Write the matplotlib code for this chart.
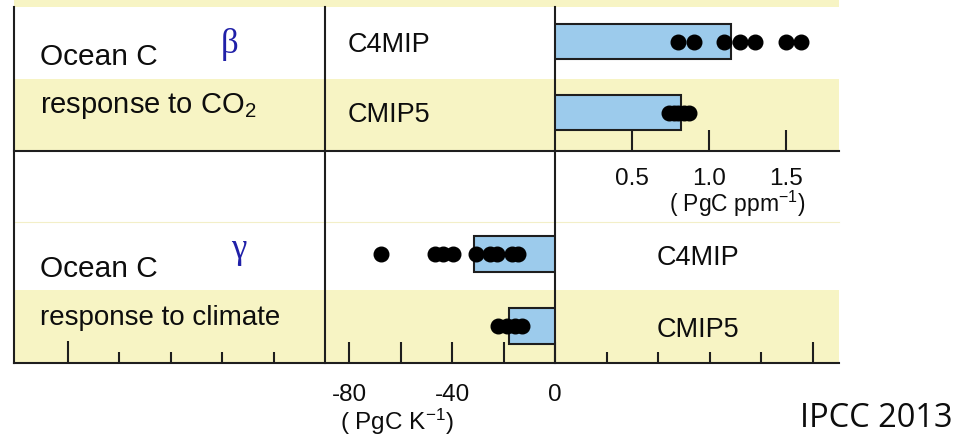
import matplotlib
matplotlib.use("Agg")
import matplotlib.pyplot as plt
from matplotlib.patches import Rectangle

plt.rcParams['font.family'] = ['Liberation Sans', 'DejaVu Sans']
plt.rcParams['mathtext.fontset'] = 'custom'
plt.rcParams['mathtext.rm'] = 'Liberation Sans'
plt.rcParams['mathtext.it'] = 'Liberation Sans'

# ---------------- data ----------------
rows = ["C4MIP", "CMIP5"]
beta_bar = [1.14, 0.82]
beta_c4mip = [0.80, 0.90, 1.10, 1.20, 1.30, 1.50, 1.60]
beta_cmip5 = [0.74, 0.77, 0.80, 0.84, 0.87]
gamma_bar = [-31.5, -17.9]
gamma_c4mip = [-67.6, -46.6, -43.5, -39.7, -30.7, -25.2, -22.6, -16.8, -14.2]
gamma_cmip5 = [-22.0, -18.8, -15.5, -12.7]
beta_ticks = [0.5, 1.0, 1.5]
beta_ticklabels = ["0.5", "1.0", "1.5"]
gamma_major = [-80, -40, 0]
gamma_minor = [-60, -20]
gamma_ticklabels = ["-80", "-40", "0"]
left_short = [-80, -60, -40, -20]
left_tall = [-100]
right_short = [20, 40, 60, 80]
right_tall = [100]

W, H = 976, 443
fig = plt.figure(figsize=(W / 100, H / 100), dpi=100)

YEL = '#f7f4c4'
BLUE = '#9ccbec'
DARK = '#1e1e1e'
TXT = '#0d0d0d'
LW = 1.5


def fx(x):
    return x / W


def fy(y):
    return 1 - y / H


def add_ax(x0, y0, x1, y1, **kw):
    return fig.add_axes([fx(x0), fy(y1), fx(x1) - fx(x0), (y1 - y0) / H], **kw)


# background axes in pixel units for bands, frame lines and labels
bg = fig.add_axes([0, 0, 1, 1])
bg.set_xlim(0, W)
bg.set_ylim(H, 0)
bg.axis('off')

for (y0, y1) in [(0, 7), (79, 151), (290, 363)]:
    bg.add_patch(Rectangle((14, y0), 839 - 14, y1 - y0, facecolor=YEL, edgecolor='none', zorder=0))
bg.plot([14, 839], [222, 222], color='#f3efc8', lw=0.8, zorder=1)

# frame lines
bg.plot([14, 14], [7, 363], color=DARK, lw=LW, zorder=3)
bg.plot([325, 325], [7, 363], color=DARK, lw=LW, zorder=3)
bg.plot([555, 555], [7, 363], color=DARK, lw=LW, zorder=3)
bg.plot([14, 839], [151, 151], color=DARK, lw=LW, zorder=3)
bg.plot([14, 839], [363, 363], color=DARK, lw=LW, zorder=3)

# left texts
bg.text(40, 65, "Ocean C", fontsize=21.5, va='baseline', ha='left', color=TXT)
bg.text(40, 113, r"response to CO$_{\mathregular{2}}$", fontsize=21, va='baseline', ha='left', color=TXT)
bg.text(40, 277, "Ocean C", fontsize=21.5, va='baseline', ha='left', color=TXT)
bg.text(40, 325, "response to climate", fontsize=20, va='baseline', ha='left', color=TXT)
bg.text(230, 44, "β", fontsize=25, family=['Liberation Serif', 'DejaVu Serif'],
        color='#2020a8', ha='center', va='center')
bg.text(239, 249, "γ", fontsize=25, family=['Liberation Serif', 'DejaVu Serif'],
        color='#2020a8', ha='center', va='center')

# model labels
bg.text(348, 52, rows[0], fontsize=19.5, va='baseline', ha='left', color=TXT)
bg.text(348, 122, rows[1], fontsize=19.5, va='baseline', ha='left', color=TXT)
bg.text(657, 265, rows[0], fontsize=19.5, va='baseline', ha='left', color=TXT)
bg.text(657, 337, rows[1], fontsize=19.5, va='baseline', ha='left', color=TXT)

# units
bg.text(737, 212, r"( PgC ppm$^{\mathregular{-1}}$)", fontsize=16.5, va='baseline', ha='center', color=TXT)
bg.text(397, 430, r"( PgC K$^{\mathregular{-1}}$)", fontsize=17.5, va='baseline', ha='center', color=TXT)

# credit
bg.text(800, 427, "IPCC 2013", fontsize=23.5, family=['Open Sans', 'DejaVu Sans'],
        va='baseline', ha='left', color=TXT)

# ---------------- beta panel ----------------
axb = add_ax(555, 7, 839, 151)
axb.patch.set_alpha(0)
for s in axb.spines.values():
    s.set_visible(False)
axb.set_xlim(0, 284 / 154)
axb.set_ylim(1.542, -0.486)
axb.barh([0, 1], beta_bar, height=0.5, color=BLUE, edgecolor=DARK, linewidth=LW, zorder=2)
axb.plot(beta_c4mip, [0] * len(beta_c4mip), 'o', color='black', ms=10.5, zorder=3)
axb.plot(beta_cmip5, [1] * len(beta_cmip5), 'o', color='black', ms=10.5, zorder=3)
axb.set_yticks([])
axb.set_xticks(beta_ticks)
axb.set_xticklabels(beta_ticklabels, fontsize=17.5, color=TXT)
axb.tick_params(axis='x', direction='in', length=15, width=LW, pad=12, color=DARK)

# ---------------- gamma panel ----------------
axg = add_ax(325, 222, 555, 363)
axg.patch.set_alpha(0)
for s in axg.spines.values():
    s.set_visible(False)
axg.set_xlim(-230 / 2.575, 0)
axg.set_ylim(1.514, -0.444)
axg.barh([0, 1], gamma_bar, height=0.5, color=BLUE, edgecolor=DARK, linewidth=LW, zorder=2)
axg.plot(gamma_c4mip, [0] * len(gamma_c4mip), 'o', color='black', ms=10.5, zorder=3)
axg.plot(gamma_cmip5, [1] * len(gamma_cmip5), 'o', color='black', ms=10.5, zorder=3)
axg.set_yticks([])
axg.set_xticks(gamma_major)
axg.set_xticks(gamma_minor, minor=True)
axg.set_xticklabels(gamma_ticklabels, fontsize=17.5, color=TXT)
axg.tick_params(axis='x', which='both', direction='in', length=15, width=LW, pad=15, color=DARK)

# ---------------- neighbouring panel ticks ----------------
axl = add_ax(14, 222, 325, 363)
axl.patch.set_alpha(0)
for s in axl.spines.values():
    s.set_visible(False)
axl.set_xlim(-311 / 2.575, 0)
axl.set_yticks([])
axl.set_xticks(left_tall)
axl.set_xticks(left_short, minor=True)
axl.set_xticklabels([])
axl.tick_params(axis='x', which='major', direction='in', length=16, width=LW, color=DARK)
axl.tick_params(axis='x', which='minor', direction='in', length=8, width=LW, color=DARK)

axr = add_ax(555, 222, 839, 363)
axr.patch.set_alpha(0)
for s in axr.spines.values():
    s.set_visible(False)
axr.set_xlim(0, 284 / 2.575)
axr.set_yticks([])
axr.set_xticks(right_tall)
axr.set_xticks(right_short, minor=True)
axr.set_xticklabels([])
axr.tick_params(axis='x', which='major', direction='in', length=15, width=LW, color=DARK)
axr.tick_params(axis='x', which='minor', direction='in', length=8, width=LW, color=DARK)

fig.savefig("out.png", dpi=100)
